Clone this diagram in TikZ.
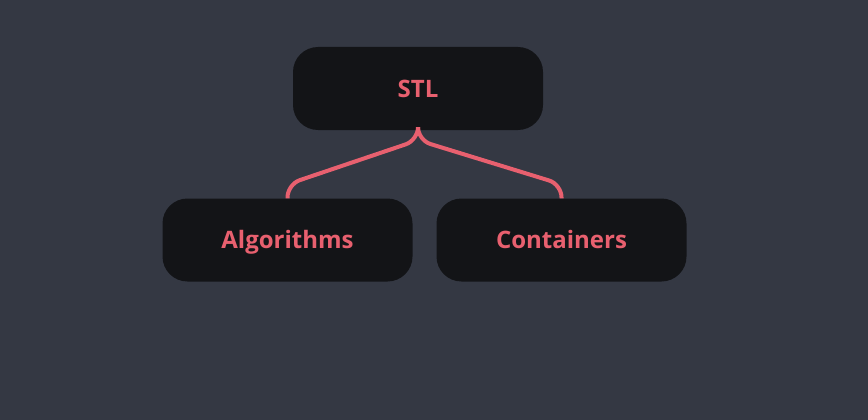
\documentclass[tikz,border=0pt]{standalone}
\usepackage{fontspec}
\setmainfont{Open Sans}
\usetikzlibrary{%
  positioning
 ,calc
}
\definecolor{bgc}{HTML}{343843}
\definecolor{boxc}{HTML}{131417}
\definecolor{pinkc}{HTML}{E8606F}
\tikzstyle{tree}=[node distance=2cm,on grid,x=1pt,y=1pt]
\tikzstyle{bx}=[rectangle,rounded corners=25pt,fill=boxc,text=pinkc,minimum width=250pt,minimum height=83pt,text height=19pt,text depth=2pt,font=\fontsize{24}{27}\selectfont\bfseries]
\tikzstyle{link}=[draw=pinkc,line width=4pt,rounded corners=13pt]

\begin{document}
\begin{tikzpicture}[tree]
      \fill[bgc] (0,0) rectangle (868,-420);
      \useasboundingbox (0,0) rectangle (868,-420);
      \node[bx] (stl) at (418,-88.5) {STL};
      \node[bx] (alg) [below left=151.5pt and 130.5pt of stl] {Algorithms};
      \node[bx] (cont) [right=274pt of alg] {Containers};
      \path[link] (stl.south) -- ++(0,-10) -- ($(alg.north)+(0,14)$) -- (alg.north);
      \path[link] (stl.south) -- ++(0,-10) -- ($(cont.north)+(0,14)$) -- (cont.north);
    \end{tikzpicture}
\end{document}
